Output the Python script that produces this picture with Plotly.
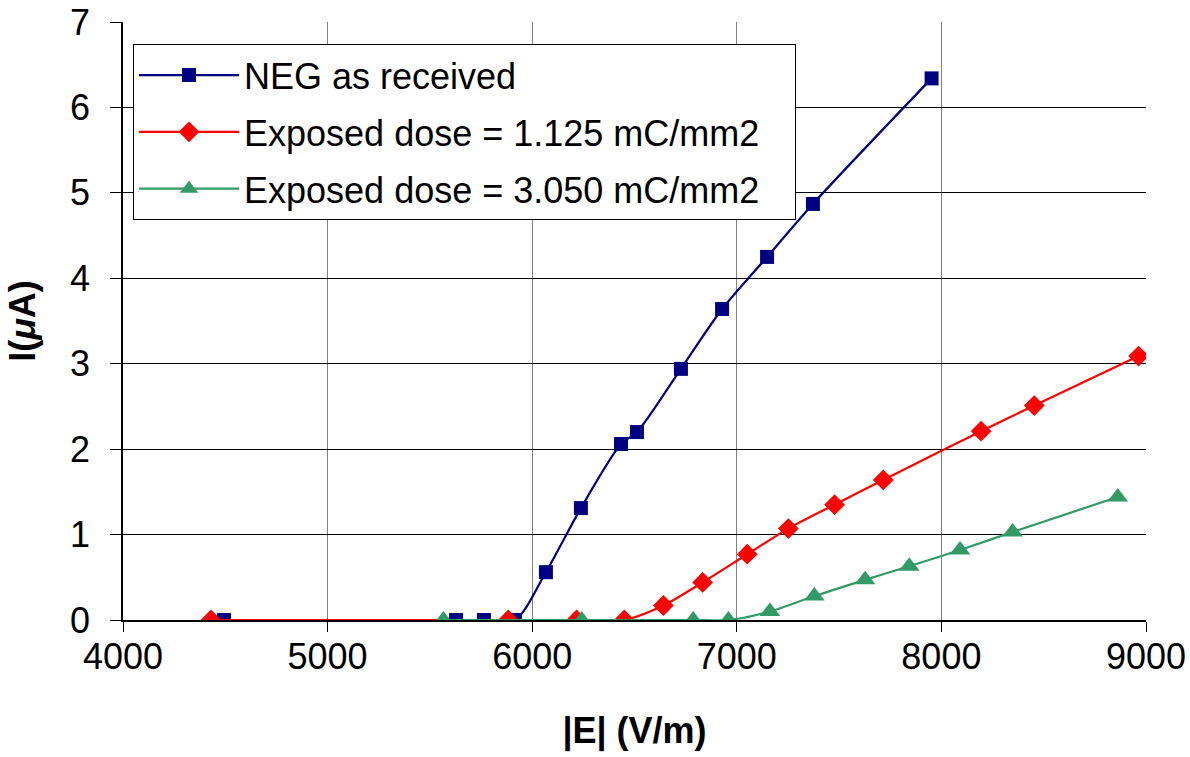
import plotly.graph_objects as go

# Data
neg_x = [4494, 5628, 5764, 5916, 6067, 6238, 6434, 6512, 6727, 6928, 7148, 7372, 7952]
neg_y = [0, 0, 0, 0, 0.56, 1.31, 2.06, 2.20, 2.94, 3.64, 4.25, 4.87, 6.34]

d1_x = [4430, 5883, 6217, 6450, 6641, 6833, 7051, 7252, 7478, 7716, 8194, 8454, 8964]
d1_y = [0, 0, 0, 0, 0.17, 0.44, 0.77, 1.07, 1.35, 1.64, 2.21, 2.51, 3.09]

d2_x = [5566, 6242, 6787, 6959, 7162, 7379, 7627, 7843, 8091, 8348, 8862]
d2_y = [0, 0, 0, 0, 0.10, 0.28, 0.47, 0.63, 0.82, 1.03, 1.44]

names = ["NEG as received", "Exposed dose = 1.125 mC/mm2", "Exposed dose = 3.050 mC/mm2"]
colors = ["#000080", "#FF0000", "#339966"]
symbols = ["square", "diamond", "triangle-up"]
sizes = [14, 16, 18]

x_ticks = [4000, 5000, 6000, 7000, 8000, 9000]
y_ticks = [0, 1, 2, 3, 4, 5, 6, 7]

FONT = "Liberation Sans, Arial, sans-serif"

fig = go.Figure()
for i, (xs, ys) in enumerate([(neg_x, neg_y), (d1_x, d1_y), (d2_x, d2_y)]):
    fig.add_trace(go.Scatter(
        x=xs, y=ys, name=names[i] + "   ", mode="lines+markers",
        legendgroup=f"g{i}",
        line=dict(color=colors[i], width=2.2, shape="spline", smoothing=0.8),
        marker=dict(symbol=symbols[i], size=sizes[i], color=colors[i]),
    ))

fig.update_layout(
    width=1190, height=757,
    margin=dict(l=123, r=44, t=22, b=137),
    paper_bgcolor="white", plot_bgcolor="white",
    font=dict(family=FONT, size=36, color="black"),
    showlegend=True,
    legend=dict(
        x=0.0098, y=0.963, xanchor="left", yanchor="top",
        bgcolor="white", bordercolor="black", borderwidth=1,
        font=dict(size=36, family=FONT),
        tracegroupgap=7, itemwidth=100,
    ),
    xaxis=dict(
        range=[4000, 9000], tickvals=x_ticks, ticktext=[str(v) for v in x_ticks],
        showgrid=True, gridcolor="#808080", gridwidth=1,
        showline=True, linecolor="black", linewidth=1.5,
        ticks="outside", ticklen=10, tickcolor="black",
        zeroline=False, mirror=False, automargin=False,
        title=dict(text="<b>|E| (V/m)</b>", font=dict(size=36, family=FONT), standoff=42),
        tickfont=dict(size=36, family=FONT),
        ticklabelstandoff=-6,
    ),
    yaxis=dict(
        range=[0, 7], tickvals=y_ticks, ticktext=[str(v) for v in y_ticks],
        showgrid=True, gridcolor="black", gridwidth=1,
        showline=True, linecolor="black", linewidth=1.5,
        ticks="outside", ticklen=11, tickcolor="black",
        zeroline=False, automargin=False,
        title=dict(text="<b>I(<i>μ</i>A)</b>", font=dict(size=36, family=FONT), standoff=23),
        tickfont=dict(size=36, family=FONT),
        ticklabelstandoff=13,
    ),
)

fig.write_html("out.html")
